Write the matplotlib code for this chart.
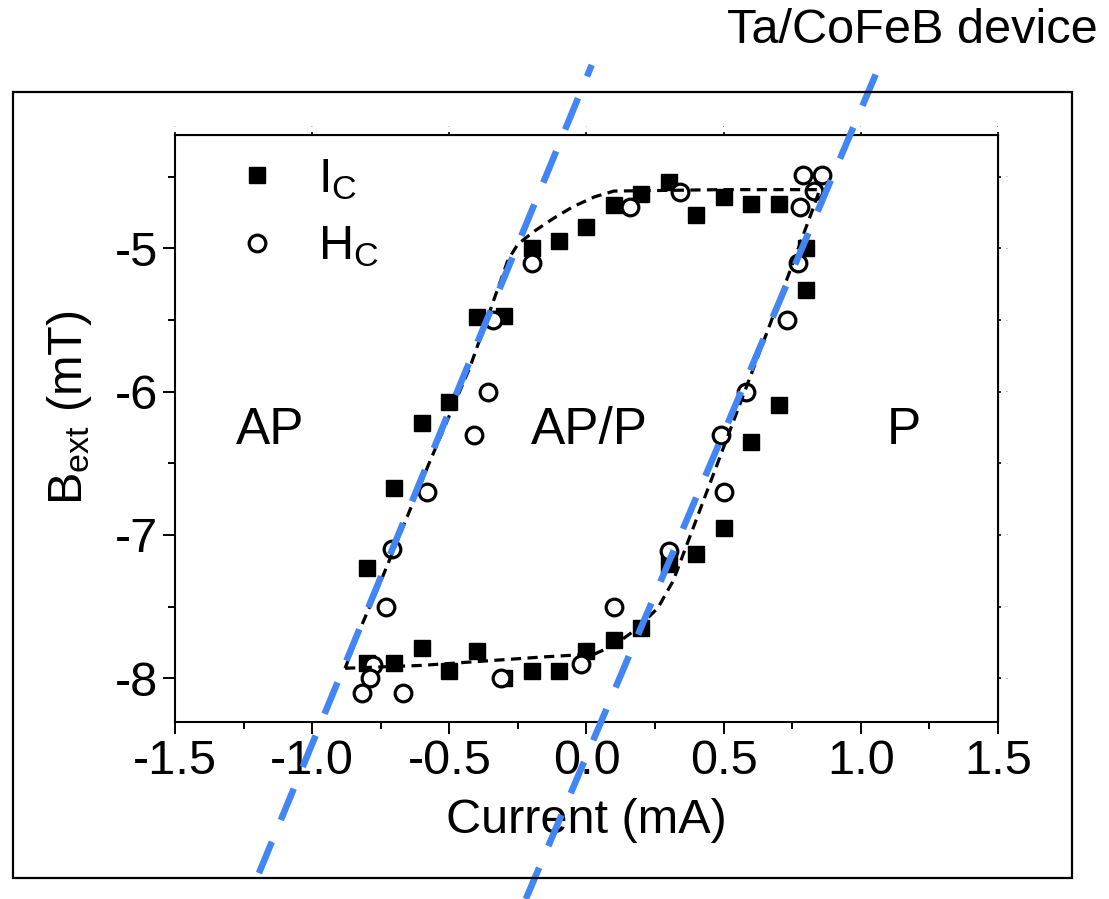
import matplotlib
matplotlib.use("Agg")
import matplotlib.pyplot as plt
from matplotlib.patches import Rectangle
from matplotlib.ticker import MultipleLocator

plt.rcParams["font.family"] = ["Liberation Sans", "DejaVu Sans"]
plt.rcParams["mathtext.fontset"] = "custom"
plt.rcParams["mathtext.rm"] = "Liberation Sans"
plt.rcParams["mathtext.it"] = "Liberation Sans:italic"
plt.rcParams["axes.unicode_minus"] = False

# I_C：電流驅動翻轉點 (mA, mT)
ic_x = [-0.6, -0.5, -0.4, -0.3, -0.2, -0.1, 0.0, 0.1, 0.2, 0.3, 0.4, 0.5,
        0.6, 0.7, 0.8, 0.8,
        -0.7, -0.8, -0.8, -0.7, -0.6, -0.5, -0.4, -0.3, -0.2, -0.1, 0.0,
        0.1, 0.2, 0.3, 0.4, 0.5, 0.6, 0.7]
ic_y = [-6.22, -6.07, -5.48, -5.47, -5.00, -4.95, -4.85, -4.70, -4.62, -4.54,
        -4.77, -4.64, -4.69, -4.69, -5.00, -5.29,
        -6.67, -7.23, -7.89, -7.89, -7.79, -7.95, -7.81, -8.00, -7.95, -7.95,
        -7.81, -7.73, -7.65, -7.20, -7.13, -6.95, -6.35, -6.09]

# H_C：磁場掃描翻轉點
hc_x = [-0.20, -0.34, -0.36, -0.41, -0.58, -0.71, -0.73, -0.78, -0.79, -0.82,
        -0.67, -0.31, -0.02, 0.10, 0.30, 0.50, 0.49, 0.58, 0.73, 0.77, 0.78,
        0.83, 0.79, 0.86, 0.34, 0.16]
hc_y = [-5.10, -5.50, -6.00, -6.30, -6.70, -7.10, -7.50, -7.91, -8.00, -8.10,
        -8.10, -8.00, -7.90, -7.50, -7.11, -6.70, -6.30, -6.00, -5.50, -5.10,
        -4.71, -4.60, -4.49, -4.49, -4.61, -4.71]

# 黑色虛線：遲滯迴圈示意
guide_x = [-0.88, -0.60, -0.30, -0.15, 0.03, 0.10, 0.18, 0.26, 0.316, 0.46,
           0.60, 0.72, 0.83, 0.85, 0.50, 0.10, 0.03, -0.05, -0.12, -0.19,
           -0.25, -0.286, -0.425, -0.576, -0.745, -0.824, -0.88]
guide_y = [-7.93, -7.91, -7.87, -7.85, -7.83, -7.77, -7.66, -7.51, -7.32,
           -6.59, -5.88, -5.27, -4.70, -4.59, -4.59, -4.60, -4.64, -4.71,
           -4.79, -4.88, -4.97, -5.08, -5.83, -6.51, -7.30, -7.65, -7.93]

# 藍色虛線：兩條邊界
left_line_x = [-1.194, 0.019]
left_line_y = [-9.36, -3.72]
right_line_x = [-0.221, 1.069]
right_line_y = [-9.54, -3.72]

regions = ["AP", "AP/P", "P"]
region_x = [-1.154, 0.012, 1.157]

BLUE = "#4285f4"
FS = 35

fig = plt.figure(figsize=(11.09, 8.99), dpi=100)
fig.patches.append(Rectangle((0.0117, 0.0234), 0.955, 0.874,
                             transform=fig.transFigure, fill=False,
                             lw=1.6, ec="black", zorder=0))
ax = fig.add_axes([0.1578, 0.1972, 0.7421, 0.6526])

ax.plot(ic_x, ic_y, "s", color="black", ms=11, ls="none",
        label=r"$\mathrm{I_C}$", zorder=3)
ax.plot(hc_x, hc_y, "o", mfc="white", mec="black", mew=2.3, ms=12,
        ls="none", label=r"$\mathrm{H_C}$", zorder=3)
ax.plot(guide_x, guide_y, color="black", lw=2.3, dashes=(3.2, 2), zorder=4)
for lx, ly in ((left_line_x, left_line_y), (right_line_x, right_line_y)):
    ax.plot(lx, ly, color=BLUE, lw=4.7, dashes=(5.2, 3.6),
            dash_capstyle="butt", clip_on=False, zorder=5)

for name, x in zip(regions, region_x):
    ax.text(x, -6.27, name, fontsize=37, ha="center", va="center")

ax.set_xlim(-1.5, 1.5)
ax.set_ylim(-8.303, -4.209)
ax.xaxis.set_major_locator(MultipleLocator(0.5))
ax.xaxis.set_minor_locator(MultipleLocator(0.25))
ax.yaxis.set_major_locator(MultipleLocator(1))
ax.yaxis.set_minor_locator(MultipleLocator(0.5))
ax.xaxis.set_major_formatter(plt.FormatStrFormatter("%.1f"))
ax.yaxis.set_major_formatter(plt.FormatStrFormatter("%d"))
ax.tick_params(which="major", direction="out", length=8.5, width=1.4,
               labelsize=FS, pad=4)
ax.tick_params(which="minor", direction="out", length=5, width=1.4)
for s in ax.spines.values():
    s.set_linewidth(1.5)

# 上、右側短刻度
for sec in (ax.secondary_xaxis("top"), ax.secondary_yaxis("right")):
    sec.tick_params(which="both", direction="out", length=2.5, width=1.2,
                    labelsize=0)

ax.set_xlabel("Current (mA)", fontsize=FS, labelpad=10)
ax.set_ylabel(r"$\mathrm{B_{ext}}$ (mT)", fontsize=FS)
ax.yaxis.set_label_coords(-0.099, 0.535)

ax.legend(loc="upper left", bbox_to_anchor=(0.07, 0.963), frameon=False,
          fontsize=FS, handlelength=1.0, handletextpad=0.75,
          labelspacing=0.47, borderpad=0, borderaxespad=0, numpoints=1)

fig.text(0.990, 0.991, "Ta/CoFeB device", fontsize=FS, ha="right",
         va="top")

fig.savefig("out.png", dpi=100, facecolor="white")
